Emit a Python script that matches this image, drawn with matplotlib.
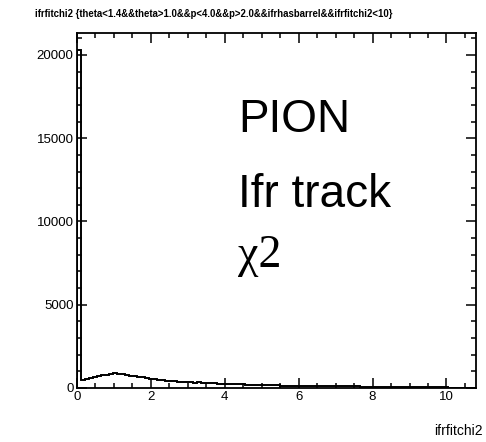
"""PION ifr track chi2 histogram, ROOT-style frame."""

import numpy as np
import matplotlib

matplotlib.use("Agg")
import matplotlib.pyplot as plt
from matplotlib.ticker import MultipleLocator

# 100 bins from 0 to 10.8 (ROOT autoscaled range)
x_min, x_max, n_bins = 0.0, 10.8, 100
counts = [
    20300, 470, 520, 580, 640, 700, 760, 800, 850, 880,
    870, 830, 790, 750, 720, 680, 640, 600, 560, 520,
    500, 480, 450, 430, 410, 390, 370, 360, 340, 330,
    350, 310, 300, 290, 280, 270, 260, 250, 240, 230,
    225, 215, 200, 210, 195, 185, 180, 170, 165, 160,
    155, 150, 145, 140, 138, 135, 130, 128, 125, 120,
    118, 115, 112, 110, 108, 105, 100, 98, 96, 94,
    92, 90, 88, 86, 84, 82, 80, 78, 77, 75,
    74, 72, 70, 69, 68, 66, 65, 64, 62, 61,
    60, 58, 57, 0, 0, 0, 0, 0, 0, 0,
]
y_max = 21320

title = "ifrfitchi2 {theta<1.4&&theta>1.0&&p<4.0&&p>2.0&&ifrhasbarrel&&ifrfitchi2<10}"
x_label = "ifrfitchi2"
notes = ["PION", "Ifr track"]

W, H = 486, 442
sans = ["Liberation Sans", "DejaVu Sans"]

fig = plt.figure(figsize=(W / 100, H / 100), dpi=100)
ax = fig.add_axes([77 / W, 1 - 388 / H, (476 - 77) / W, (388 - 33) / H])

edges = np.linspace(x_min, x_max, n_bins + 1)
ax.stairs(counts, edges, color="black", lw=1.4, baseline=0)

ax.set_xlim(x_min, x_max)
ax.set_ylim(0, y_max)
ax.xaxis.set_major_locator(MultipleLocator(2))
ax.xaxis.set_minor_locator(MultipleLocator(0.5))
ax.yaxis.set_major_locator(MultipleLocator(5000))
ax.yaxis.set_minor_locator(MultipleLocator(1000))
ax.tick_params(which="both", direction="in", top=True, right=True, width=1.1)
ax.tick_params(which="major", length=7.2, pad=2.5)
ax.tick_params(which="minor", length=3.6)
for lab in ax.get_xticklabels() + ax.get_yticklabels():
    lab.set_family(sans)
    lab.set_fontsize(9.5)
for sp in ax.spines.values():
    sp.set_linewidth(1.3)

fig.text(35 / W, 1 - 17 / H, title, family=sans, fontsize=6.9, fontweight="bold",
         va="baseline", ha="left")
fig.text(483 / W, 1 - 435 / H, x_label, family=sans, fontsize=10,
         va="baseline", ha="right")

fig.text(238 / W, 1 - 132 / H, notes[0], family=sans,
         fontsize=33, va="baseline", ha="left")
fig.text(238 / W, 1 - 207 / H, notes[1], family=sans,
         fontsize=33, va="baseline", ha="left")
fig.text(238 / W, 1 - 267 / H, "\u03c72", family=["Liberation Serif", "DejaVu Serif"],
         fontsize=33, va="baseline", ha="left")

fig.savefig("out.png", dpi=100)
plt.close(fig)
